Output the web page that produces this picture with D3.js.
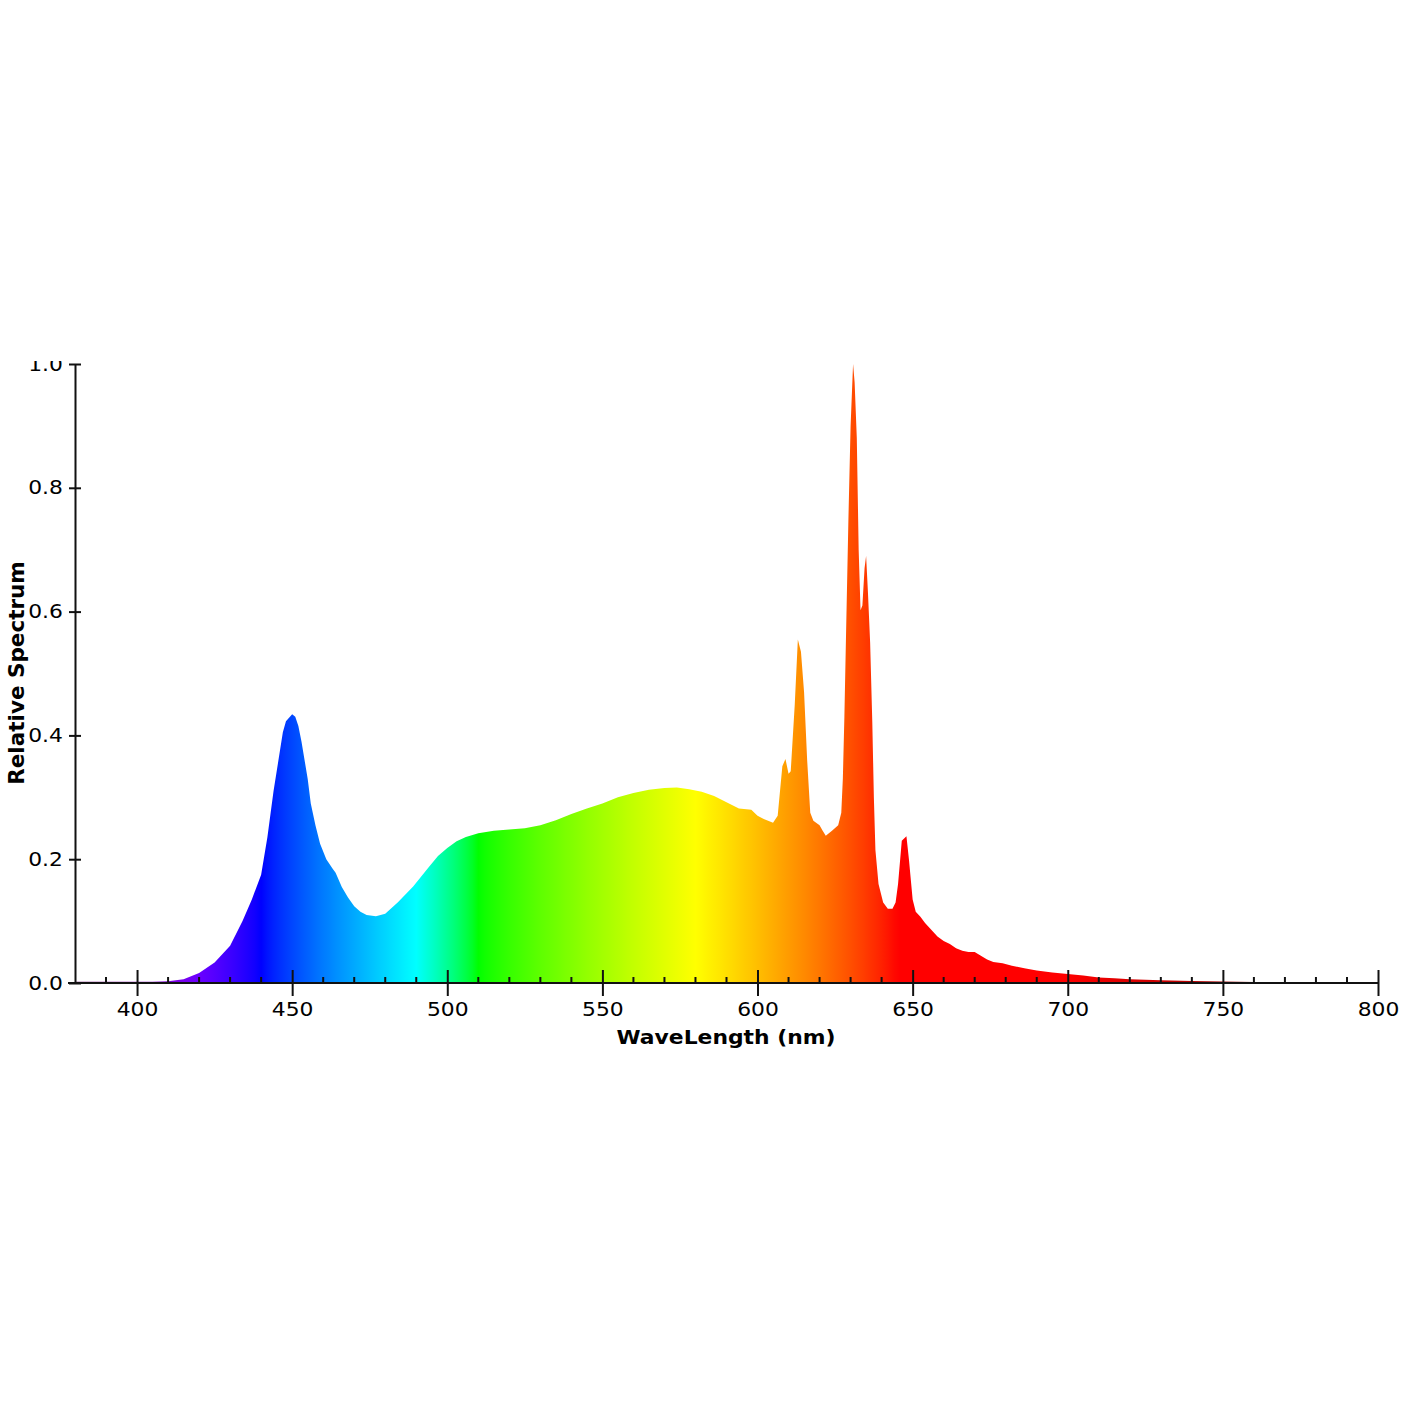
<!DOCTYPE html>
<html>
<head>
<meta charset="utf-8">
<script src="https://cdn.jsdelivr.net/npm/d3@7"></script>
<style>
    body { margin: 0; background: #fff; }
    text { font-family: "DejaVu Sans", Verdana, sans-serif; fill: #000; }
</style>
</head>
<body>
<svg id="spectrum_svg" width="1420" height="1420"></svg>
<script>

// wavelength (nm) and relative intensity
var wavelengths = [
    380, 385, 390, 395, 400, 405, 410, 415, 420, 425, 430, 434, 437, 440, 442, 444, 447, 448, 450, 451, 452,
    453, 455, 456, 457.5, 459, 461, 463, 464, 466, 468, 470, 472, 474, 477, 480, 484, 489, 494, 497, 500,
    503, 506, 510, 515, 520, 525, 530, 535, 540, 545, 550, 555, 560, 565, 570, 574, 578, 582, 586, 590,
    594, 598, 600, 602, 605, 606.5, 608, 609, 610, 610.7, 612, 613, 614, 615, 616, 617, 618, 620, 621, 622,
    624, 626, 627, 627.5, 628, 628.6, 629.3, 630, 630.8, 631.3, 632, 632.6, 633.2, 633.8, 634.5, 635, 635.6, 636.3, 637, 637.5,
    638, 639, 640.5, 642, 643.5, 644.5, 645.3, 646.5, 648, 648.8, 650, 651, 652.5, 654, 656, 658, 660, 662, 664, 666,
    668, 670, 672, 674, 676, 679, 682, 686, 690, 695, 700, 705, 710, 715, 720, 725, 730, 740, 750, 760,
    770, 780, 790, 800
];

var spectrum = [
    0.002, 0.002, 0.002, 0.002, 0.002, 0.002, 0.003, 0.006, 0.016, 0.033, 0.06, 0.10, 0.135, 0.175, 0.235, 0.31, 0.405, 0.423, 0.434, 0.43, 0.415,
    0.39, 0.33, 0.29, 0.255, 0.225, 0.2, 0.185, 0.178, 0.155, 0.138, 0.124, 0.115, 0.11, 0.108, 0.112, 0.13, 0.156, 0.187, 0.205, 0.218,
    0.229, 0.236, 0.242, 0.246, 0.248, 0.25, 0.255, 0.263, 0.273, 0.282, 0.29, 0.3, 0.307, 0.312, 0.315, 0.316, 0.313, 0.309, 0.302, 0.292,
    0.282, 0.28, 0.27, 0.265, 0.259, 0.27, 0.35, 0.362, 0.338, 0.342, 0.45, 0.555, 0.535, 0.47, 0.36, 0.275, 0.262, 0.255, 0.246, 0.238,
    0.246, 0.255, 0.275, 0.33, 0.43, 0.58, 0.75, 0.9, 1.0, 0.97, 0.88, 0.7, 0.602, 0.61, 0.67, 0.69, 0.63, 0.55, 0.42, 0.3,
    0.215, 0.16, 0.13, 0.12, 0.12, 0.13, 0.16, 0.23, 0.237, 0.2, 0.135, 0.115, 0.107, 0.097, 0.086, 0.075, 0.068, 0.063, 0.056, 0.052,
    0.05, 0.05, 0.044, 0.038, 0.034, 0.032, 0.028, 0.024, 0.02, 0.017, 0.0145, 0.012, 0.009, 0.0075, 0.0062, 0.0053, 0.0045, 0.0034, 0.0024, 0.0016,
    0.0012, 0.0008, 0.0006, 0.0005
];

var x_major_ticks = [400, 450, 500, 550, 600, 650, 700, 750, 800];
var y_ticks = [0.0, 0.2, 0.4, 0.6, 0.8, 1.0];

var x_title = "WaveLength (nm)";
var y_title = "Relative Spectrum";

// the reference text is a bit wider than tall
var text_stretch = 1.15;

// wavelength -> rgb (Bruton style)
wavelength_color = function (w) {
    var r = 0, g = 0, b = 0;
    if (w < 440) { r = -(w - 440) / (440 - 380); b = 1; }
    else if (w < 490) { g = (w - 440) / (490 - 440); b = 1; }
    else if (w < 510) { g = 1; b = -(w - 510) / (510 - 490); }
    else if (w < 580) { r = (w - 510) / (580 - 510); g = 1; }
    else if (w < 645) { r = 1; g = -(w - 645) / (645 - 580); }
    else if (w <= 780) { r = 1; }

    var f = 1;
    if (w < 420) f = 0.3 + 0.7 * (w - 380) / (420 - 380);
    else if (w > 700) f = 0.3 + 0.7 * (780 - w) / (780 - 700);
    if (w > 780) f = 0;

    var adj = c => c == 0 ? 0 : Math.round(255 * Math.pow(c * f, 0.8));
    return d3.rgb(adj(r), adj(g), adj(b)).formatHex();
}

make_chart = function () {

    var data = wavelengths.map((w, i) => ({ w: w, v: spectrum[i] }));

    margin = ({ top: 3, right: 42, bottom: 78, left: 75 });
    width = 1420;
    height = 700;

    x = d3.scaleLinear()
        .domain([380, 800])
        .range([margin.left, width - margin.right]);

    y = d3.scaleLinear()
        .domain([0, 1])
        .range([height - margin.bottom, margin.top]);

    const root = d3.select("#spectrum_svg");

    // plot box sits 361px down the page and clips what spills over its top
    const svg = root.append("svg")
        .attr("x", 0)
        .attr("y", 361)
        .attr("width", width)
        .attr("height", height)
        .style("overflow", "hidden");

    var grad = svg.append("defs").append("linearGradient")
        .attr("id", "spectrum_gradient")
        .attr("gradientUnits", "userSpaceOnUse")
        .attr("x1", x(380)).attr("x2", x(800))
        .attr("y1", 0).attr("y2", 0);

    grad.selectAll("stop")
        .data(d3.range(380, 801, 2))
        .join("stop")
        .attr("offset", d => (d - 380) / (800 - 380))
        .attr("stop-color", d => wavelength_color(d));

    area = d3.area()
        .x(d => x(d.w))
        .y0(y(0))
        .y1(d => y(d.v));

    svg.append("path")
        .datum(data)
        .attr("fill", "url(#spectrum_gradient)")
        .attr("d", area);

    // x axis: long ticks every 50nm, short ones every 10nm
    xAxis = g => g
        .attr("transform", `translate(0,${y(0)})`)
        .call(d3.axisBottom(x).tickValues(x_major_ticks).tickSize(13).tickPadding(7).tickSizeOuter(0))
        .call(g => g.select(".domain").attr("d", `M${x(380) - 7},0H${x(800)}`))
        .call(g => g.selectAll(".tick line").attr("y1", -13))
        .call(g => g.selectAll(".tick text")
            .attr("font-size", 19)
            .attr("transform", `scale(${text_stretch},1)`));

    var x_minor = svg.append("g")
        .attr("transform", `translate(0,${y(0)})`);

    x_minor.selectAll("line")
        .data(d3.range(390, 800, 10).filter(d => d % 50 != 0))
        .join("line")
        .attr("x1", d => x(d)).attr("x2", d => x(d))
        .attr("y1", -6).attr("y2", 0)
        .attr("stroke", "#111")
        .attr("stroke-width", 2);

    yAxis = g => g
        .attr("transform", `translate(${margin.left},0)`)
        .call(d3.axisLeft(y).tickValues(y_ticks).tickFormat(d3.format(".1f")).tickSize(6).tickPadding(4.5).tickSizeOuter(0))
        .call(g => g.selectAll(".tick line").attr("x1", 6))
        .call(g => g.selectAll(".tick text")
            .attr("font-size", 19)
            .attr("transform", `scale(${text_stretch},1)`));

    svg.append("g").call(xAxis);
    svg.append("g").call(yAxis);

    svg.selectAll(".domain, .tick line")
        .attr("stroke", "#111")
        .attr("stroke-width", 2);

    // titles
    root.append("text")
        .attr("transform", `translate(726,1044) scale(${text_stretch},1)`)
        .attr("text-anchor", "middle")
        .attr("font-size", 19)
        .attr("font-weight", "bold")
        .text(x_title);

    root.append("text")
        .attr("transform", "translate(24,673) rotate(-90)")
        .attr("text-anchor", "middle")
        .attr("font-size", 21.5)
        .attr("font-weight", "bold")
        .text(y_title);
}

make_chart();

</script>
</body>
</html>
